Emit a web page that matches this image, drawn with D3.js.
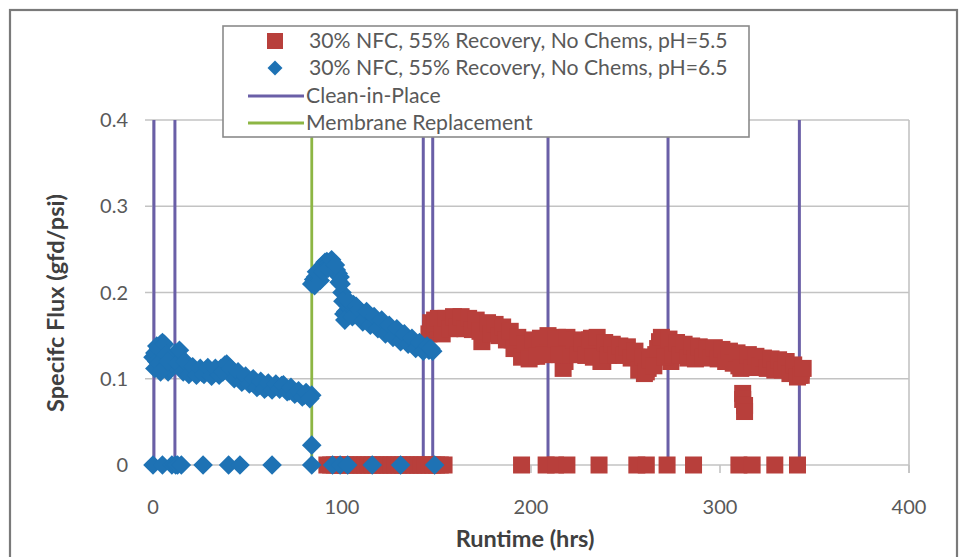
<!DOCTYPE html>
<html>
<head>
<meta charset="utf-8">
<script src="https://cdn.jsdelivr.net/npm/d3@7"></script>
<style>
  html, body { margin: 0; padding: 0; background: #fff; }
  svg { display: block; }
  text { font-family: Lato, "Open Sans", "Liberation Sans", sans-serif; }
</style>
</head>
<body>
<svg id="chart" width="963" height="557"></svg>
<script>
// ---------------- DATA ----------------
const seriesNames = [
  "30% NFC, 55% Recovery, No Chems, pH=5.5",
  "30% NFC, 55% Recovery, No Chems, pH=6.5"
];
const eventNames = ["Clean-in-Place", "Membrane Replacement"];

const xTicks = [0, 100, 200, 300, 400];
const yTicks = [0, 0.1, 0.2, 0.3, 0.4];

// pH 6.5 (blue diamonds): runtime (hrs)
const bluHours = [0,1,2,3,4,5,6,7,8,9,10,11,12,13,14,15,16,18,20,22,24,26,28,30,32,34,36,38,40,42,44,46,48,50,52,54,56,58,60,62,64,66,68,70,72,74,76,78,80,82,83,84,
  1,2,3,4,6,7,8,13,14,16,17,19,21,23,25,27,29,31,33,35,37,39,41,43,45,47,49,51,53,55,57,59,61,63,65,67,69,71,73,75,77,79,81,83,
  84,85,86,87,88,89,90,91,92,93,94,95,96,97,98,99,100,101,102,103,104,105,106,107,108,110,112,114,116,118,120,122,124,126,128,130,132,134,136,138,140,142,144,146,148,
  85.5,86.5,88.5,90,92.5,94.5,96.5,98.5,99.5,100.5,101.5,103.5,105.5,107.5,109,111,113,115,117,119,121,123,125,127,129,131,133,135,137,139,141,143,145,147,
  0,5,10,12,13,15,26.5,40,46,63,84,84,95,99,103,116,131,149];
// pH 6.5: specific flux (gfd/psi)
const bluFlux = [0.125,0.13,0.12,0.135,0.14,0.142,0.13,0.115,0.108,0.112,0.118,0.125,0.13,0.128,0.122,0.118,0.115,0.113,0.11,0.108,0.109,0.107,0.11,0.108,0.106,0.109,0.112,0.116,0.11,0.105,0.104,0.1,0.098,0.099,0.096,0.094,0.092,0.094,0.09,0.091,0.09,0.091,0.092,0.088,0.086,0.085,0.084,0.082,0.081,0.08,0.079,0.081,
  0.112,0.138,0.118,0.108,0.14,0.128,0.12,0.118,0.133,0.108,0.12,0.105,0.114,0.104,0.112,0.105,0.113,0.103,0.112,0.104,0.108,0.117,0.112,0.1,0.108,0.096,0.103,0.094,0.1,0.09,0.097,0.088,0.095,0.087,0.094,0.088,0.093,0.085,0.09,0.082,0.086,0.079,0.084,0.077,
  0.21,0.215,0.218,0.213,0.222,0.228,0.232,0.235,0.236,0.234,0.23,0.228,0.224,0.226,0.222,0.218,0.2,0.175,0.178,0.185,0.182,0.18,0.186,0.178,0.176,0.172,0.17,0.175,0.168,0.165,0.16,0.162,0.156,0.155,0.152,0.15,0.146,0.148,0.143,0.14,0.14,0.137,0.135,0.133,0.132,
  0.208,0.224,0.214,0.224,0.228,0.238,0.232,0.212,0.21,0.19,0.168,0.19,0.172,0.184,0.18,0.166,0.178,0.162,0.172,0.158,0.168,0.152,0.162,0.148,0.158,0.143,0.152,0.14,0.147,0.135,0.142,0.132,0.138,0.135,
  0,0,0,0,0,0,0,0,0,0,0,0.023,0,0,0,0,0,0];

// pH 5.5 (red squares): runtime (hrs)
const redHours = [146,147,148,149,150,151,152,153,154,156,158,160,162,164,166,168,170,172,174,175,176,178,180,182,184,186,188,190,192,194,196,198,200,202,204,206,208,210,212,214,216,217,218,220,222,224,226,228,230,232,234,236,238,240,242,244,246,248,250,252,254,256,258,260,262,264,266,268,270,272,274,276,278,280,282,284,286,288,290,292,294,296,298,300,302,304,306,308,310,312,312,313,313,314,316,318,320,322,324,326,328,330,332,334,336,338,340,342,343,
  147,149,151,153,155,157,159,161,163,165,167,169,171,173,177,179,181,183,185,187,189,191,193,195,197,199,201,203,205,207,209,211,213,215,219,221,223,225,227,229,231,233,235,237,239,241,243,245,247,249,251,253,255,257,259,261,263,265,267,269,271,273,275,277,279,281,283,285,287,289,291,293,295,297,299,301,303,305,307,309,311,315,317,319,321,323,325,327,329,331,333,335,337,339,341,343,344,
  92,94,96,98,100,102,104,106,108,110,112,114,116,118,120,122,124,126,128,130,132,134,136,138,140,142,144,146,148,150,152,154,195,208,213,219,236,256,261,272,286,310,317,329,341];
// pH 5.5: specific flux (gfd/psi)
const redFlux = [0.152,0.158,0.162,0.155,0.163,0.158,0.165,0.16,0.166,0.162,0.168,0.165,0.168,0.163,0.167,0.164,0.165,0.16,0.143,0.158,0.162,0.158,0.16,0.155,0.158,0.152,0.148,0.145,0.14,0.135,0.128,0.13,0.126,0.133,0.14,0.137,0.145,0.14,0.135,0.148,0.138,0.112,0.12,0.135,0.14,0.135,0.133,0.138,0.135,0.147,0.14,0.13,0.12,0.135,0.138,0.135,0.132,0.135,0.133,0.131,0.128,0.125,0.12,0.106,0.112,0.125,0.128,0.143,0.14,0.138,0.12,0.135,0.133,0.135,0.132,0.13,0.135,0.128,0.133,0.131,0.13,0.132,0.128,0.13,0.127,0.126,0.127,0.125,0.115,0.083,0.076,0.069,0.062,0.122,0.125,0.12,0.122,0.121,0.118,0.118,0.115,0.119,0.117,0.115,0.113,0.11,0.108,0.104,0.11,
  0.165,0.168,0.17,0.152,0.17,0.158,0.172,0.16,0.172,0.158,0.17,0.157,0.168,0.155,0.165,0.152,0.163,0.15,0.16,0.145,0.155,0.135,0.148,0.125,0.14,0.123,0.145,0.126,0.147,0.128,0.15,0.128,0.146,0.128,0.148,0.128,0.145,0.128,0.142,0.127,0.145,0.125,0.148,0.12,0.142,0.127,0.14,0.128,0.138,0.127,0.137,0.124,0.132,0.11,0.125,0.108,0.122,0.115,0.135,0.148,0.125,0.146,0.128,0.142,0.127,0.14,0.124,0.138,0.123,0.137,0.125,0.135,0.124,0.136,0.123,0.134,0.12,0.132,0.118,0.13,0.112,0.128,0.113,0.126,0.115,0.124,0.112,0.123,0.11,0.122,0.11,0.12,0.106,0.116,0.102,0.104,0.112,
  0,0,0,0,0,0,0,0,0,0,0,0,0,0,0,0,0,0,0,0,0,0,0,0,0,0,0,0,0,0,0,0,0,0,0,0,0,0,0,0,0,0,0,0,0];

const cipHours = [0.5, 11.6, 143, 148, 209, 272.5, 342];
const membraneHours = [84];

// ---------------- LAYOUT ----------------
const svg = d3.select("#chart");
const x = d3.scaleLinear().domain([0, 400]).range([153, 909]);
const y = d3.scaleLinear().domain([0, 0.4]).range([465, 120]);

const C = {
  red: "#b83f3b", blue: "#1e72b4", cip: "#6a5fa7", mem: "#8db644",
  grid: "#c3c3c3", text: "#595959", title: "#404040"
};

// outer border
svg.append("rect").attr("x", 10).attr("y", 10).attr("width", 947).attr("height", 570)
  .attr("fill", "#fff").attr("stroke", "#7a7a7a").attr("stroke-width", 2.2);

// gridlines
svg.append("g").selectAll("line").data(yTicks).join("line")
  .attr("x1", 145).attr("x2", x(400))
  .attr("y1", d => y(d)).attr("y2", d => y(d))
  .attr("stroke", C.grid).attr("stroke-width", 1.6);
svg.append("line").attr("x1", x(400)).attr("x2", x(400)).attr("y1", y(0.4)).attr("y2", y(0) + 8)
  .attr("stroke", C.grid).attr("stroke-width", 1.6);
svg.append("line").attr("x1", x(0)).attr("x2", x(0)).attr("y1", y(0.4)).attr("y2", y(0))
  .attr("stroke", C.grid).attr("stroke-width", 1.6);

// x axis ticks
svg.append("g").selectAll("line").data(xTicks).join("line")
  .attr("x1", d => x(d)).attr("x2", d => x(d))
  .attr("y1", y(0)).attr("y2", y(0) + 8)
  .attr("stroke", C.grid).attr("stroke-width", 1.6);

// tick labels
svg.append("g").selectAll("text").data(xTicks).join("text")
  .attr("x", d => x(d)).attr("y", 507).attr("dy", "0.35em")
  .attr("text-anchor", "middle").attr("font-size", 20).attr("fill", C.text)
  .text(d => d);
svg.append("g").selectAll("text").data(yTicks).join("text")
  .attr("x", 128).attr("y", d => y(d)).attr("dy", "0.35em")
  .attr("text-anchor", "end").attr("font-size", 20).attr("fill", C.text)
  .text(d => d3.format("")(d));

// axis titles
svg.append("text").attr("x", 525).attr("y", 539).attr("dy", "0.35em")
  .attr("text-anchor", "middle").attr("font-size", 23.5).attr("font-weight", "bold")
  .attr("fill", C.title).text("Runtime (hrs)");
svg.append("text").attr("transform", "translate(56,303) rotate(-90)").attr("dy", "0.35em")
  .attr("text-anchor", "middle").attr("font-size", 23.5).attr("font-weight", "bold")
  .attr("fill", C.title).text("Specifc Flux (gfd/psi)");

// event lines
svg.append("g").selectAll("line").data(cipHours).join("line")
  .attr("x1", d => x(d)).attr("x2", d => x(d))
  .attr("y1", y(0)).attr("y2", y(0.4))
  .attr("stroke", C.cip).attr("stroke-width", 3);
svg.append("g").selectAll("line").data(membraneHours).join("line")
  .attr("x1", d => x(d)).attr("x2", d => x(d))
  .attr("y1", y(0)).attr("y2", y(0.4))
  .attr("stroke", C.mem).attr("stroke-width", 2.8);

// markers
const sq = 17, dh = 9.8;
const redPts = redHours.map((h, i) => [h, redFlux[i]]);
const bluPts = bluHours.map((h, i) => [h, bluFlux[i]]);
svg.append("g").selectAll("rect").data(redPts).join("rect")
  .attr("x", d => x(d[0]) - sq / 2).attr("y", d => y(d[1]) - sq / 2)
  .attr("width", sq).attr("height", sq).attr("fill", C.red);
const diamond = (cx, cy) => `M${cx},${cy - dh}L${cx + dh},${cy}L${cx},${cy + dh}L${cx - dh},${cy}Z`;
svg.append("g").selectAll("path").data(bluPts).join("path")
  .attr("d", d => diamond(x(d[0]), y(d[1]))).attr("fill", C.blue);

// legend
const lg = svg.append("g");
lg.append("rect").attr("x", 223).attr("y", 26).attr("width", 526).attr("height", 111)
  .attr("fill", "#fff").attr("stroke", "#8a8a8a").attr("stroke-width", 1.6);
const rows = [41, 68, 96, 123];
lg.append("rect").attr("x", 275 - 8).attr("y", rows[0] - 8).attr("width", 16).attr("height", 16).attr("fill", C.red);
lg.append("path").attr("d", `M275,${rows[1] - 7.5}L282.5,${rows[1]}L275,${rows[1] + 7.5}L267.5,${rows[1]}Z`).attr("fill", C.blue);
lg.append("line").attr("x1", 248).attr("x2", 304).attr("y1", rows[2]).attr("y2", rows[2]).attr("stroke", C.cip).attr("stroke-width", 3);
lg.append("line").attr("x1", 248).attr("x2", 304).attr("y1", rows[3]).attr("y2", rows[3]).attr("stroke", C.mem).attr("stroke-width", 2.8);
const labels = [seriesNames[0], seriesNames[1], eventNames[0], eventNames[1]];
lg.selectAll("text.lab").data(labels).join("text").attr("class", "lab")
  .attr("x", (d, i) => i < 2 ? 309 : 306).attr("y", (d, i) => rows[i]).attr("dy", "0.35em")
  .attr("font-size", 21.2).attr("fill", C.text).text(d => d);
</script>
</body>
</html>
